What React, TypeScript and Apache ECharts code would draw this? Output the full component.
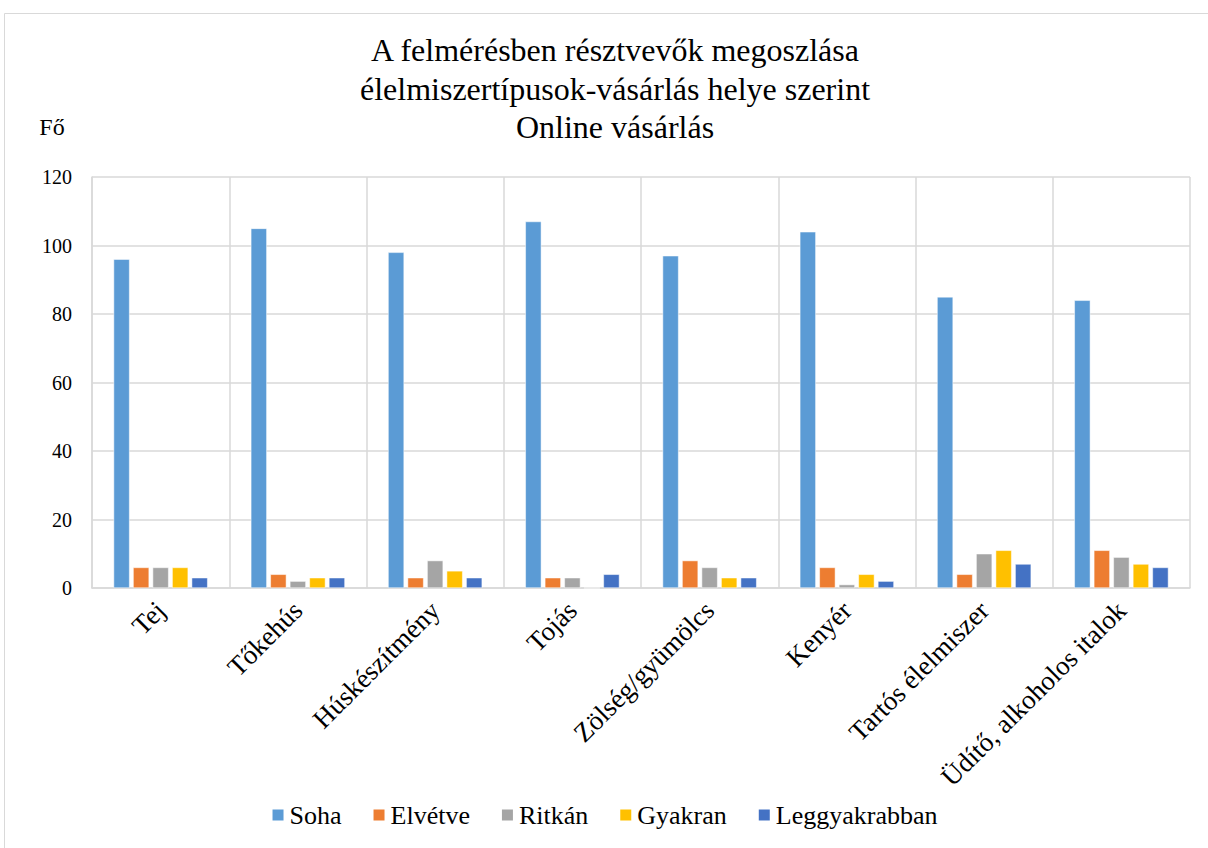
import React, { useEffect, useRef } from "react";
import * as echarts from "echarts";

const categories = [
  "Tej",
  "Tőkehús",
  "Húskészítmény",
  "Tojás",
  "Zölség/gyümölcs",
  "Kenyér",
  "Tartós élelmiszer",
  "Üdítő, alkoholos italok",
];
const seriesNames = ["Soha", "Elvétve", "Ritkán", "Gyakran", "Leggyakrabban"];
const soha = [96, 105, 98, 107, 97, 104, 85, 84];
const elvetve = [6, 4, 3, 3, 8, 6, 4, 11];
const ritkan = [6, 2, 8, 3, 6, 1, 10, 9];
const gyakran = [6, 3, 5, 0, 3, 4, 11, 7];
const leggyakrabban = [3, 3, 3, 4, 3, 2, 7, 6];
const colors = ["#5B9BD5", "#ED7D31", "#A5A5A5", "#FFC000", "#4472C4"];
const titleText =
  "A felmérésben résztvevők megoszlása\nélelmiszertípusok-vásárlás helye szerint\nOnline vásárlás";

const FONT = "Liberation Serif";

export default function App() {
  const ref = useRef<HTMLDivElement>(null);
  useEffect(() => {
    if (!ref.current) return;
    const chart = echarts.init(ref.current, undefined, { renderer: "svg" });
    const data = [soha, elvetve, ritkan, gyakran, leggyakrabban];
    chart.setOption({
      animation: false,
      backgroundColor: "#ffffff",
      textStyle: { fontFamily: FONT },
      graphic: [
        {
          type: "rect",
          shape: { x: 4.5, y: 13.5, width: 1220, height: 850 },
          style: { fill: "none", stroke: "#d9d9d9", lineWidth: 1 },
          silent: true,
        },
        {
          type: "text",
          x: 615,
          y: 31,
          style: {
            text: titleText,
            fontFamily: FONT,
            fontSize: 32,
            lineHeight: 38.5,
            fill: "#000000",
            align: "center",
            verticalAlign: "top",
          },
        },
        {
          type: "text",
          x: 52,
          y: 127,
          style: {
            text: "Fő",
            fontFamily: FONT,
            fontSize: 24,
            fill: "#000000",
            align: "center",
            verticalAlign: "middle",
          },
        },
      ],
      legend: {
        bottom: 15,
        left: "center",
        icon: "rect",
        itemWidth: 13,
        itemHeight: 13,
        itemGap: 30,
        textStyle: { fontFamily: FONT, fontSize: 26, color: "#000000" },
        data: seriesNames,
      },
      grid: { left: 92, right: 18, top: 177, bottom: 260, containLabel: false },
      xAxis: {
        type: "category",
        data: categories,
        boundaryGap: true,
        axisLine: { show: true, lineStyle: { color: "#d9d9d9", width: 1.5 } },
        axisTick: { show: false },
        splitLine: { show: true, lineStyle: { color: "#d9d9d9", width: 1.5 } },
        axisLabel: {
          rotate: 45,
          interval: 0,
          fontFamily: FONT,
          fontSize: 27,
          color: "#000000",
          margin: 18,
        },
      },
      yAxis: {
        type: "value",
        min: 0,
        max: 120,
        interval: 20,
        axisLine: { show: true, lineStyle: { color: "#d9d9d9", width: 1.5 } },
        axisTick: { show: false },
        splitLine: { show: true, lineStyle: { color: "#d9d9d9", width: 1.5 } },
        axisLabel: { fontFamily: FONT, fontSize: 20, color: "#000000", margin: 20 },
      },
      series: seriesNames.map((name, i) => ({
        name,
        type: "bar",
        data: data[i],
        barWidth: 16,
        barGap: "22%",
        itemStyle: { color: colors[i], borderColor: "#ffffff", borderWidth: 0.5 },
      })),
    });
    return () => chart.dispose();
  }, []);
  return (
    <div
      ref={ref}
      style={{ position: "fixed", left: 0, top: 0, width: 1208, height: 848 }}
    />
  );
}
